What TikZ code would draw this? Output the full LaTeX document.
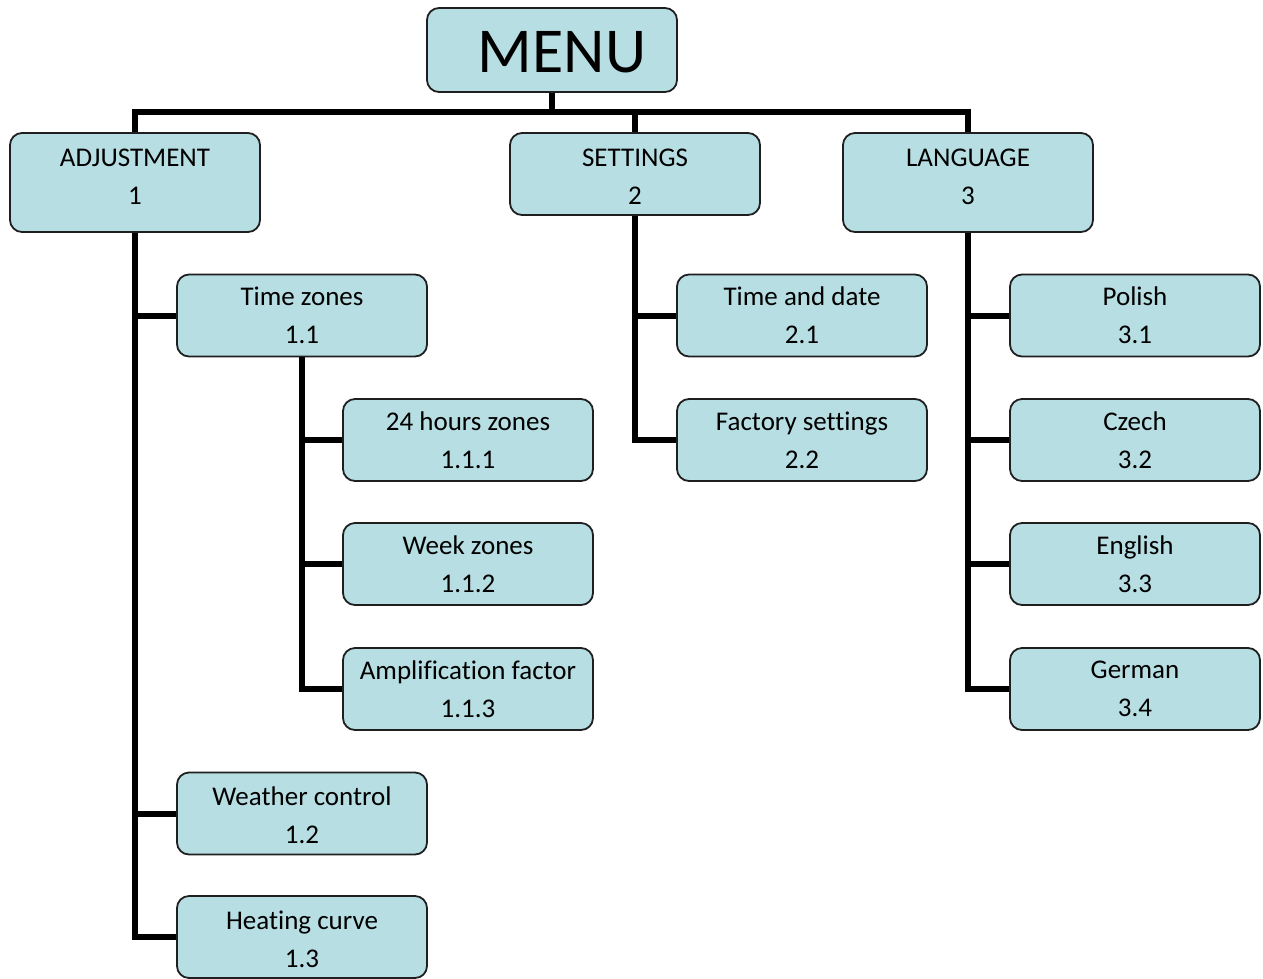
\documentclass[tikz,border=0pt]{standalone}
\usepackage{fontspec}
\setmainfont[Ligatures=CommonOff]{Carlito}
\definecolor{boxfill}{RGB}{183,222,226}
\begin{document}
\begin{tikzpicture}[x=1pt,y=-1pt,
  box/.style={draw=black!88, line width=1.8pt, fill=boxfill, rounded corners=12pt,
    minimum width=250pt, minimum height=82pt, inner sep=0pt},
  lbl/.style={align=center, font=\fontsize{27}{38}\selectfont, inner sep=0pt},
  conn/.style={line width=6pt}]
\useasboundingbox (0,0) rectangle (1263,978);
% boxes
\node[box, minimum height=84pt] (menu) at (552,50) {};
\node[box, minimum height=99pt] (adj) at (135,182.5) {};
\node[box] (set) at (635,174) {};
\node[box, minimum height=99pt] (lang) at (968,182.5) {};
\node[box] (tz) at (302,315.5) {};
\node[box] (h24) at (468,440) {};
\node[box] (week) at (468,564) {};
\node[box] (amp) at (468,689) {};
\node[box] (wc) at (302,813.5) {};
\node[box] (heat) at (302,937) {};
\node[box] (td) at (802,315.5) {};
\node[box] (fs) at (802,440) {};
\node[box] (pl) at (1135,315.5) {};
\node[box] (cz) at (1135,440) {};
\node[box] (en) at (1135,564) {};
\node[box] (de) at (1135,689) {};
% texts
\node[lbl, font=\fontsize{64}{70}\selectfont] (menu-t) at (562,52) {MENU};
\node[lbl] (adj-t) at (135,176.5) {ADJUSTMENT\\1};
\node[lbl] (set-t) at (635,176.5) {SETTINGS\\2};
\node[lbl] (lang-t) at (968,176.5) {LANGUAGE\\3};
\node[lbl] (tz-t) at (302,315.5) {Time zones\\1.1};
\node[lbl] (h24-t) at (468,440) {24 hours zones\\1.1.1};
\node[lbl] (week-t) at (468,564) {Week zones\\1.1.2};
\node[lbl] (amp-t) at (468,689) {Amplification factor\\1.1.3};
\node[lbl] (wc-t) at (302,815) {Weather control\\1.2};
\node[lbl] (heat-t) at (302,939) {Heating curve\\1.3};
\node[lbl] (td-t) at (802,315.5) {Time and date\\2.1};
\node[lbl] (fs-t) at (802,440) {Factory settings\\2.2};
\node[lbl] (pl-t) at (1135,315.5) {Polish\\3.1};
\node[lbl] (cz-t) at (1135,440) {Czech\\3.2};
\node[lbl] (en-t) at (1135,564) {English\\3.3};
\node[lbl] (de-t) at (1135,689) {German\\3.4};
% connectors
\coordinate (j0) at (552,112);
\draw[conn] (menu.south) -- (j0);
\draw[conn] (adj.north) |- (j0) -| (lang.north);
\draw[conn] (set.north) -- (set.north |- j0);
% adjustment
\draw[conn] (adj.south) |- (heat.west);
\draw[conn] (adj.south |- tz.west) -- (tz.west);
\draw[conn] (adj.south |- wc.west) -- (wc.west);
\draw[conn] (tz.south) |- (amp.west);
\draw[conn] (tz.south |- h24.west) -- (h24.west);
\draw[conn] (tz.south |- week.west) -- (week.west);
% settings
\draw[conn] (set.south) |- (fs.west);
\draw[conn] (set.south |- td.west) -- (td.west);
% language
\draw[conn] (lang.south) |- (de.west);
\draw[conn] (lang.south |- pl.west) -- (pl.west);
\draw[conn] (lang.south |- cz.west) -- (cz.west);
\draw[conn] (lang.south |- en.west) -- (en.west);
\end{tikzpicture}
\end{document}
